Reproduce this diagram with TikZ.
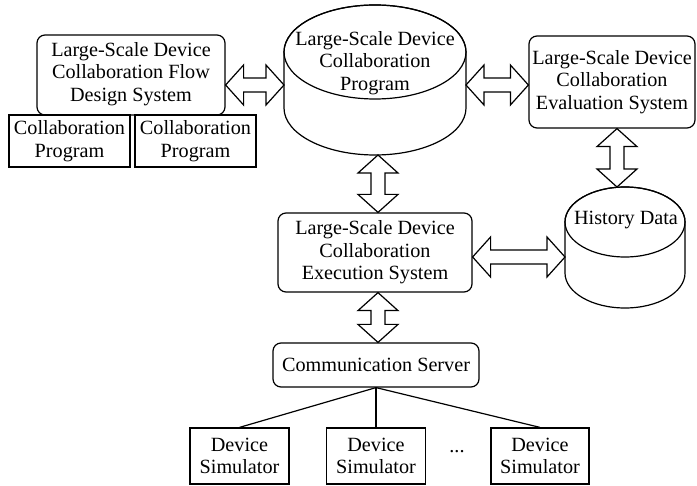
\documentclass[tikz,border=0pt]{standalone}
\usepackage{fontspec}
\setmainfont{Liberation Serif}
\usetikzlibrary{calc}
\tikzset{
  box/.style={draw, line width=1.2pt, rectangle, inner sep=0pt, align=center, fill=white},
  rbox/.style={box, rounded corners=8pt},
  lbl/.style={align=center, inner sep=0pt},
  blk/.style={draw, line width=1.2pt, fill=white, line join=miter},
  cyl/.style={draw, line width=1.2pt, fill=white},
}
\newcommand\blkH[2]{\draw[blk] let \p1=#1, \p2=#2 in
  (\x1,\y1) -- (\x1+18pt,\y1+20pt) -- (\x1+18pt,\y1+7pt) -- (\x2-18pt,\y1+7pt) -- (\x2-18pt,\y1+20pt)
  -- (\x2,\y1) -- (\x2-18pt,\y1-20pt) -- (\x2-18pt,\y1-7pt) -- (\x1+18pt,\y1-7pt) -- (\x1+18pt,\y1-20pt) -- cycle;}
\newcommand\blkV[2]{\draw[blk] let \p1=#1, \p2=#2 in
  (\x1,\y1) -- (\x1+20pt,\y1-18pt) -- (\x1+7pt,\y1-18pt) -- (\x1+7pt,\y2+18pt) -- (\x1+20pt,\y2+18pt)
  -- (\x1,\y2) -- (\x1-20pt,\y2+18pt) -- (\x1-7pt,\y2+18pt) -- (\x1-7pt,\y1-18pt) -- (\x1-20pt,\y1-18pt) -- cycle;}
\begin{document}
\begin{tikzpicture}[x=1pt, y=-1pt, font=\fontsize{20.2}{22.5}\selectfont]
\useasboundingbox (0,0) rectangle (697,486);

% design system
\node[rbox, minimum width=188pt, minimum height=80pt] (flow) at (131,75) {};
\node[lbl] (flowt) at (131,74) {Large-Scale Device\\Collaboration Flow\\Design System};
\node[box, minimum width=121pt, minimum height=52pt] (cp1) at (69.5,141) {Collaboration\\Program};
\node[box, minimum width=121pt, minimum height=52pt] (cp2) at (195.5,141) {Collaboration\\Program};

% central program cylinder
\draw[cyl] (284,52) -- (284,108) arc[start angle=180, end angle=360, x radius=91pt, y radius=47pt]
  -- (466,52) arc[start angle=0, end angle=180, x radius=91pt, y radius=47pt] -- cycle;
\draw[line width=1.2pt] (375,52) ellipse [x radius=91pt, y radius=47pt];
\node[lbl] (prog) at (375,63) {Large-Scale Device\\Collaboration\\Program};
\coordinate (pl) at (284,85);
\coordinate (pr) at (466,85);
\coordinate (pb) at (378,155);

% evaluation system
\node[rbox, minimum width=166pt, minimum height=92pt] (eval) at (612,82) {Large-Scale Device\\Collaboration\\Evaluation System};

% history data cylinder
\draw[cyl] (565,222) -- (565,273) arc[start angle=180, end angle=360, x radius=60pt, y radius=35pt]
  -- (685,222) arc[start angle=0, end angle=180, x radius=60pt, y radius=35pt] -- cycle;
\draw[line width=1.2pt] (625,222) ellipse [x radius=60pt, y radius=35pt];
\node[lbl] (hist) at (626,220) {History Data};
\coordinate (htop) at (617,187);
\coordinate (hl) at (565,257);

% execution system
\node[rbox, minimum width=194pt, minimum height=79pt] (exec) at (375,252.5) {Large-Scale Device\\Collaboration\\Execution System};

% communication server
\node[rbox, minimum width=206pt, minimum height=44pt] (comm) at (376,365) {Communication Server};

% devices
\node[box, minimum width=99pt, minimum height=56pt] (d1) at (239.5,456) {Device\\Simulator};
\node[box, minimum width=99pt, minimum height=56pt] (d2) at (376,456) {Device\\Simulator};
\node[box, minimum width=98pt, minimum height=56pt] (d3) at (540,456) {Device\\Simulator};
\node[lbl] (dots) at (457,452) {...};

% helper coordinates
\coordinate (y85) at (0,85);
\coordinate (x378) at (378,0);
\coordinate (x617) at (617,0);
\coordinate (y257) at (0,257);

% block arrows
\blkH{(flow.east |- y85)}{(pl)}
\blkH{(pr)}{(eval.west |- y85)}
\blkV{(eval.south -| x617)}{(htop)}
\blkV{(pb)}{(exec.north -| x378)}
\blkH{(exec.east |- y257)}{(hl)}
\blkV{(exec.south -| x378)}{(comm.north -| x378)}

% lines
\draw[line width=1.2pt] (comm.south) -- (d1.north);
\draw[line width=1.2pt] (comm.south) -- (d2.north);
\draw[line width=1.2pt] (comm.south) -- (d3.north);
\end{tikzpicture}
\end{document}
